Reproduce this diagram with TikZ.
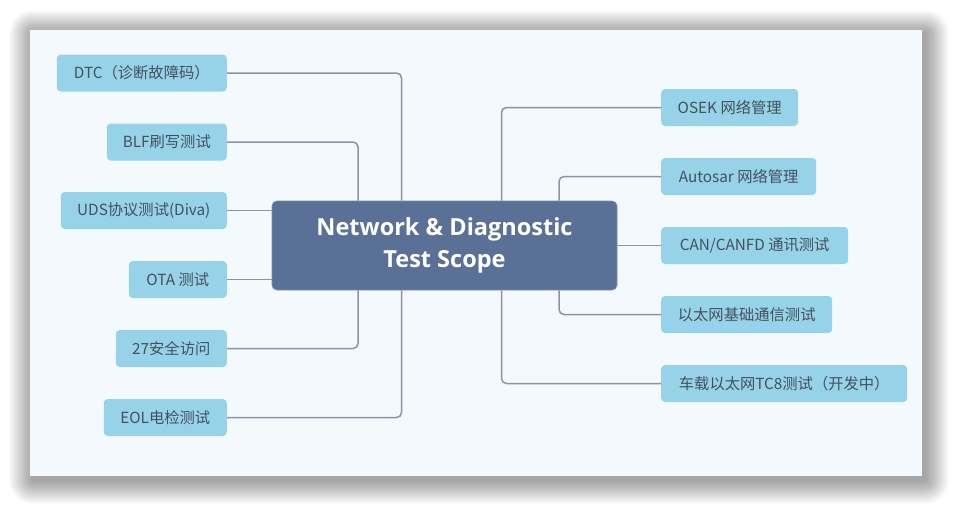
\documentclass[tikz,border=0pt]{standalone}
\usepackage{fontspec}
\setmainfont{Noto Sans CJK SC}
\newfontfamily\titlefont{Open Sans}
\definecolor{panelbg}{HTML}{F4F9FE}
\definecolor{leafbg}{HTML}{96D2E8}
\definecolor{leaftext}{HTML}{44505E}
\definecolor{rootbg}{HTML}{5A7097}
\definecolor{rootedge}{HTML}{7C8DAE}
\definecolor{linkc}{HTML}{8A94A6}
\begin{document}
\begin{tikzpicture}[x=1pt,y=-1pt,
  leaf/.style={fill=leafbg, rounded corners=4pt, minimum height=37pt, inner sep=0pt,
    text=leaftext, font=\fontsize{15.3pt}{18pt}\selectfont, minimum width=#1},
  root/.style={fill=rootbg, draw=rootedge, line width=0.8pt, rounded corners=5pt,
    minimum width=345pt, minimum height=89pt, inner sep=0pt, text=white, align=center,
    font=\titlefont\bfseries\fontsize{23.5pt}{32pt}\selectfont},
  conn/.style={draw=linkc, line width=1.5pt, rounded corners=5pt},
  shadowlayer/.style={fill=black, opacity=0.015}]
\useasboundingbox (0,0) rectangle (953,507);
\fill[white] (0,0) rectangle (953,507);
\foreach \i in {1,...,24} {
  \fill[shadowlayer, rounded corners=\i pt] (33-\i,34-\i) rectangle (925+\i,480+\i);
}
\fill[panelbg] (30,30) rectangle (922,476);

\node[root] (c) at (444.5,245.5) {Network \& Diagnostic\\Test Scope};

\node[leaf=170pt, anchor=east] (dtc) at (227,73) {DTC（诊断故障码）};
\node[leaf=120pt, anchor=east] (blf) at (227,142) {BLF刷写测试};
\node[leaf=166pt, anchor=east] (uds) at (227,210.5) {UDS协议测试(Diva)};
\node[leaf=98pt, anchor=east] (ota) at (227,279.5) {OTA 测试};
\node[leaf=111pt, anchor=east] (sec) at (227,348.5) {27安全访问};
\node[leaf=123pt, anchor=east] (eol) at (227,417.5) {EOL电检测试};

\node[leaf=137pt, anchor=west] (osek) at (661,107.5) {OSEK 网络管理};
\node[leaf=155pt, anchor=west] (auto) at (661,176.5) {Autosar 网络管理};
\node[leaf=187pt, anchor=west] (can) at (661,245.5) {CAN/CANFD 通讯测试};
\node[leaf=171pt, anchor=west] (eth) at (661,314.5) {以太网基础通信测试};
\node[leaf=246pt, anchor=west] (tc8) at (661,383.5) {车载以太网TC8测试（开发中）};

\coordinate (xa) at (401.5,0);
\coordinate (xb) at (358,0);
\coordinate (xc) at (501.5,0);
\coordinate (xd) at (559,0);

\draw[conn] (dtc.east) -| (c.north -| xa);
\draw[conn] (blf.east) -| (c.north -| xb);
\draw[conn] (uds.east) -- (c.west |- uds.east);
\draw[conn] (ota.east) -- (c.west |- ota.east);
\draw[conn] (sec.east) -| (c.south -| xb);
\draw[conn] (eol.east) -| (c.south -| xa);

\draw[conn] (osek.west) -| (c.north -| xc);
\draw[conn] (auto.west) -| (c.north -| xd);
\draw[conn] (can.west) -- (c.east |- can.west);
\draw[conn] (eth.west) -| (c.south -| xd);
\draw[conn] (tc8.west) -| (c.south -| xc);
\end{tikzpicture}
\end{document}
